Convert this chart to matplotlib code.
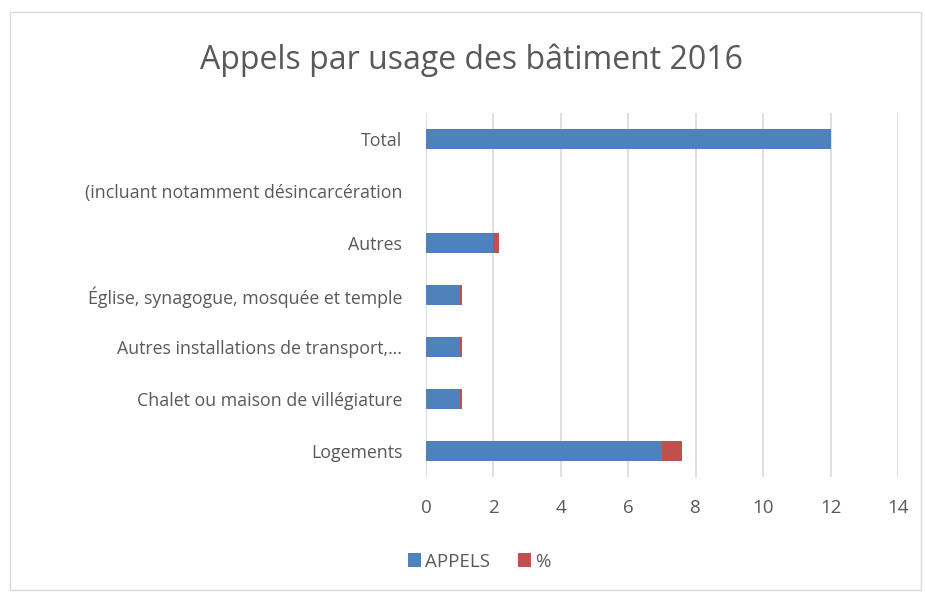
import matplotlib
matplotlib.use("Agg")
import matplotlib.pyplot as plt
from matplotlib.patches import Rectangle

plt.rcParams['font.family'] = ['Open Sans', 'DejaVu Sans']

# données (de bas en haut)
categories = [
    "Logements",
    "Chalet ou maison de villégiature",
    "Autres installations de transport,…",
    "Église, synagogue, mosquée et temple",
    "Autres",
    "(incluant notamment désincarcération",
    "Total",
]
appels = [7, 1, 1, 1, 2, 0, 12]
pourcent = [0.58, 0.08, 0.08, 0.08, 0.17, 0, 0]
xticks = [0, 2, 4, 6, 8, 10, 12, 14]

blue = '#4f81bd'
red = '#c0504d'
grey = '#595959'

fig = plt.figure(figsize=(9.25, 5.93), dpi=100)
ax = fig.add_axes([0.4605, 0.1956, 0.5103, 0.6138])

y = range(len(categories))
ax.barh(y, appels, height=0.4, color=blue, label='APPELS', zorder=3)
ax.barh(y, pourcent, left=appels, height=0.4, color=red, label='%', zorder=3)

ax.set_xlim(0, 14)
ax.set_ylim(-0.5, len(categories) - 0.5)
ax.set_xticks(xticks)
ax.set_yticks(list(y))
ax.set_yticklabels(categories)
ax.tick_params(axis='both', length=0, colors=grey, labelsize=12.8)
ax.tick_params(axis='x', labelsize=13.5, pad=16)
ax.tick_params(axis='y', pad=17)
ax.grid(axis='x', color='#d9d9d9', linewidth=1.2, zorder=0)
for s in ax.spines.values():
    s.set_visible(False)

fig.text(0.51, 0.898, "Appels par usage des bâtiment 2016", ha='center', va='center',
         fontsize=23, color=grey)

fig.legend(loc='center', bbox_to_anchor=(0.518, 0.053), ncol=2, frameon=False,
           fontsize=13.5, handlelength=0.7, handleheight=0.7, handletextpad=0.2,
           columnspacing=1.5, labelcolor=grey)

fig.patches.append(Rectangle((0.011, 0.005), 0.985, 0.975, transform=fig.transFigure,
                             fill=False, edgecolor='#d9d9d9', linewidth=1))

fig.savefig("out.png", dpi=100)
